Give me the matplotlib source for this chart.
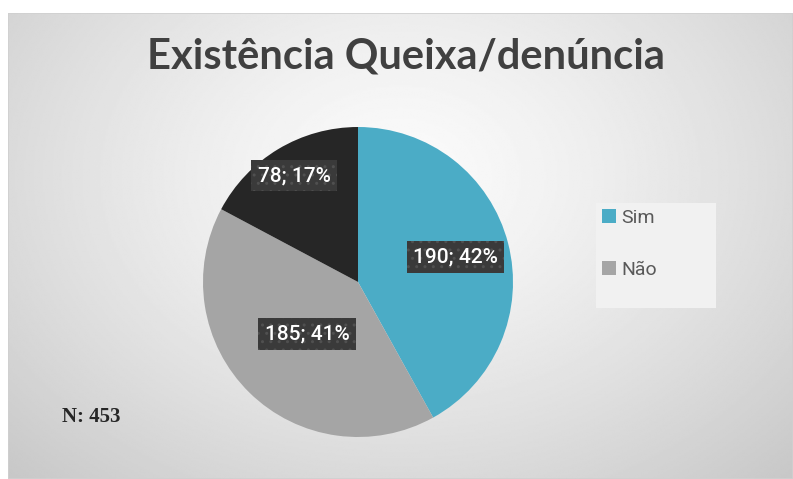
import numpy as np
import matplotlib.pyplot as plt
from matplotlib.patches import Rectangle

# data
labels = ["Sim", "Não", ""]
values = [190, 185, 78]
percents = [42, 41, 17]
colors = ["#4BACC6", "#A5A5A5", "#262626"]
title = "Existência Queixa/denúncia"
n_text = "N: 453"

W, H = 793, 479
fig = plt.figure(figsize=(W / 100, H / 100), dpi=100)
fig.patch.set_facecolor("white")

# background panel with radial gradient
bg = fig.add_axes([8 / W, 0, 1 - 8 / W, 1 - 13 / H])
yy, xx = np.mgrid[0:1:300j, 0:1:500j]
d = np.sqrt(((xx - 0.5) / 0.75) ** 2 + ((yy - 0.35) / 0.95) ** 2)
shade = np.clip(251 - 55 * d ** 1.3, 195, 251) / 255
bg.imshow(shade, cmap="gray", vmin=0, vmax=1, aspect="auto",
          extent=[0, 1, 1, 0], interpolation="bilinear")
bg.set_xlim(0, 1)
bg.set_ylim(1, 0)
bg.axis("off")
bg.add_patch(Rectangle((0, 0), 1, 1, transform=bg.transAxes, fill=False,
                       ec="#d0d0d0", lw=1.2))

# legend area background
fig.patches.append(Rectangle((596 / W, 1 - 308 / H), 120 / W, 105 / H,
                             transform=fig.transFigure, fc="#f1f1f1",
                             ec="none", zorder=1))

# pie
cx, cy, r = 358, 282, 155
ax = fig.add_axes([(cx - r) / W, (H - cy - r) / H, 2 * r / W, 2 * r / H])
wedges, _ = ax.pie(values, colors=colors, startangle=90, counterclock=False,
                   wedgeprops=dict(linewidth=0))
ax.set_xlim(-1, 1)
ax.set_ylim(-1, 1)
ax.axis("off")

dist = [0.65, 0.47, 0.80]
for w, v, p, rd in zip(wedges, values, percents, dist):
    ang = np.deg2rad((w.theta1 + w.theta2) / 2)
    ax.text(rd * np.cos(ang), rd * np.sin(ang), f"{v}; {p}%",
            ha="center", va="center", fontsize=15, color="white",
            family="Roboto", fontweight="medium",
            bbox=dict(boxstyle="square,pad=0.3", fc="#3a3a3a",
                      ec="#505050", lw=0, hatch=".."))

# legend
leg = fig.legend(wedges[:2], labels[:2], loc="upper left",
                 bbox_to_anchor=(596 / W, 1 - 203 / H),
                 frameon=False, prop=dict(family="Roboto", size=14),
                 labelcolor="#595959", handlelength=0.75, handleheight=0.75,
                 handletextpad=0.25, labelspacing=1.75, borderpad=0.3,
                 borderaxespad=0)

fig.text(406 / W, 1 - 57 / H, title, ha="center", va="center",
         fontsize=30, fontweight="bold", color="#404040", family="Lato")
fig.text(62 / W, 1 - 417 / H, n_text, ha="left", va="center",
         fontsize=15, fontweight="bold", color="#262626",
         family="Liberation Serif")

fig.savefig("out.png", dpi=100)
